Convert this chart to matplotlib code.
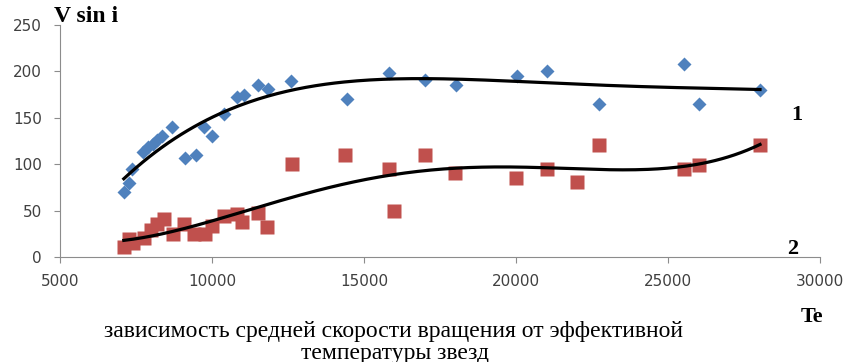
import matplotlib.pyplot as plt
import numpy as np

# group 1 (blue diamonds)
te_1 = [7100, 7270, 7370, 7730, 7900, 8050, 8200, 8350, 8680, 9110, 9470, 9740,
        10000, 10400, 10820, 11050, 11520, 11840, 12600, 14440, 15830, 17000,
        18020, 20030, 21020, 22730, 25530, 26020, 28030]
v_1 = [70, 80, 95, 113, 118, 122, 126, 130, 140, 107, 110, 140,
       130, 154, 172, 175, 185, 181, 190, 170, 198, 191,
       185, 195, 200, 165, 208, 165, 180]

# group 2 (red squares)
te_2 = [7100, 7270, 7400, 7760, 7990, 8190, 8420, 8720, 9080, 9410, 9770,
        10000, 10400, 10820, 10990, 11510, 11810, 12630, 14370, 15820, 15990,
        17000, 18000, 20000, 21020, 22000, 22730, 25530, 26020, 28030]
v_2 = [11, 19, 15, 20, 29, 36, 41, 25, 36, 25, 25,
       33, 44, 46, 38, 47, 32, 100, 110, 95, 50,
       110, 90, 85, 95, 81, 121, 95, 99, 121]

deg_1 = 4
deg_2 = 4

fig = plt.figure(figsize=(8.47, 3.62), dpi=100)
ax = fig.add_axes([0.0708, 0.290, 0.8972, 0.641])

ax.plot(te_1, v_1, 'D', color='#4F81BD', markersize=7.5, mec='none', zorder=3)
ax.plot(te_2, v_2, 's', color='#C0504D', markersize=10, mec='none', zorder=3)

# polynomial trend lines fitted to the data
for te, v, d in [(te_1, v_1, deg_1), (te_2, v_2, deg_2)]:
    te = np.array(te, dtype=float)
    c = np.polyfit(te / 10000, v, d)
    xs = np.linspace(te.min(), te.max(), 200)
    ax.plot(xs, np.polyval(c, xs / 10000), color='black', lw=2.3, zorder=4)

ax.set_xlim(5000, 30000)
ax.set_ylim(0, 250)
ax.set_xticks(range(5000, 30001, 5000))
ax.set_yticks(range(0, 251, 50))
for s in ['top', 'right']:
    ax.spines[s].set_visible(False)
for s in ['left', 'bottom']:
    ax.spines[s].set_color('#8c8c8c')
ax.tick_params(colors='#8c8c8c', labelcolor='#404040', labelsize=11, length=4)
ax.tick_params(axis='x', pad=8)
ax.tick_params(axis='y', pad=9)

serif = 'Liberation Serif'
fig.text(54 / 847, 1 - 17 / 362, 'V sin i', family=serif, weight='bold', fontsize=17,
         va='center', ha='left')
fig.text(797 / 847, 1 - 115 / 362, '1', family=serif, weight='bold', fontsize=16,
         va='center', ha='center')
fig.text(793 / 847, 1 - 249 / 362, '2', family=serif, weight='bold', fontsize=16,
         va='center', ha='center')
fig.text(812 / 847, 1 - 317 / 362, 'Te', family=serif, weight='bold', fontsize=16,
         va='center', ha='center')
fig.text(393 / 847, 1 - 332 / 362, 'зависимость средней скорости вращения от эффективной',
         family=serif, fontsize=17, va='center', ha='center')
fig.text(395 / 847, 1 - 353 / 362, 'температуры звезд',
         family=serif, fontsize=17, va='center', ha='center')

fig.savefig('out.png', dpi=100)
